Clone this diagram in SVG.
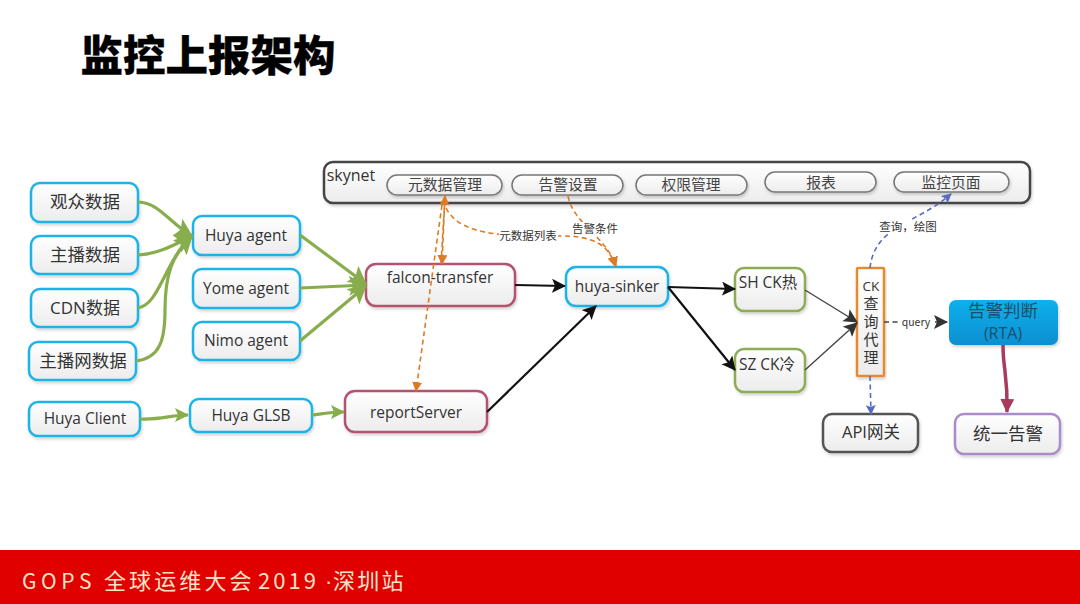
<svg xmlns="http://www.w3.org/2000/svg" width="1080" height="604" viewBox="0 0 1080 604">
<style>
text{font-family:"Liberation Sans","Noto Sans CJK SC",sans-serif;fill:#333;text-anchor:middle}
.n{font-family:"Open Sans","Noto Sans CJK SC",sans-serif;font-size:15.5px}
.c{font-family:"Open Sans","Noto Sans CJK SC",sans-serif;font-size:17.5px}
.s{font-family:"Noto Sans CJK SC",sans-serif;font-size:14.8px;fill:#444}
.l{font-family:"Noto Sans CJK SC",sans-serif;font-size:11.5px;fill:#333}
.f{font-family:"Noto Sans CJK SC",sans-serif;fill:#ffe3c8;text-anchor:start}
rect{fill:url(#g);filter:url(#sh)}
.b{stroke:#1fb4e8;stroke-width:2.5}
.r{stroke:#b4536f;stroke-width:2.5}
.gr{stroke:#8cac55;stroke-width:2.5}
.pill{stroke:#777;stroke-width:1.5}
.gc{fill:none;stroke:#88ad4c;stroke-width:3.2}
.kc{fill:none;stroke:#111;stroke-width:2.2}
.dc{fill:none;stroke:#444;stroke-width:1.4}
.oc{fill:none;stroke:#de7a25;stroke-width:1.6;stroke-dasharray:5 3.5}
.uc{fill:none;stroke:#5a6cc0;stroke-width:1.6;stroke-dasharray:5 3.5}
</style>
<defs>
<linearGradient id="g" x1="0" y1="0" x2="0" y2="1"><stop offset="0" stop-color="#fff"/><stop offset="1" stop-color="#ececec"/></linearGradient>
<linearGradient id="bl" x1="0" y1="0" x2="0" y2="1"><stop offset="0" stop-color="#0bb0ee"/><stop offset="1" stop-color="#0a8fd0"/></linearGradient>
<filter id="sh" x="-10%" y="-10%" width="120%" height="130%"><feDropShadow dx="1" dy="2" stdDeviation="1.5" flood-color="#000" flood-opacity=".18"/></filter>
<marker id="mg" markerUnits="userSpaceOnUse" markerWidth="22" markerHeight="22" refX="17" refY="10" orient="auto"><path d="M0 0L18 10L0 20L4 10Z" fill="#88ad4c"/></marker>
<marker id="mgs" markerUnits="userSpaceOnUse" markerWidth="16" markerHeight="16" refX="13" refY="7" orient="auto"><path d="M0 0L14 7L0 14L3 7Z" fill="#88ad4c"/></marker>
<marker id="mk" markerUnits="userSpaceOnUse" markerWidth="16" markerHeight="16" refX="13" refY="7" orient="auto"><path d="M0 0L14 7L0 14L3 7Z" fill="#111"/></marker>
<marker id="md" markerUnits="userSpaceOnUse" markerWidth="16" markerHeight="16" refX="13" refY="7" orient="auto"><path d="M0 0L14 7L0 14L3 7Z" fill="#333"/></marker>
<marker id="mo" markerUnits="userSpaceOnUse" markerWidth="12" markerHeight="12" refX="9" refY="5" orient="auto"><path d="M0 0L10 5L0 10Z" fill="#de7a25"/></marker>
<marker id="mu" markerUnits="userSpaceOnUse" markerWidth="12" markerHeight="12" refX="9" refY="5" orient="auto"><path d="M0 0L10 5L0 10L2 5Z" fill="#5a6cc0"/></marker>
<marker id="mr" markerUnits="userSpaceOnUse" markerWidth="16" markerHeight="16" refX="13" refY="7" orient="auto"><path d="M0 0L14 7L0 14Z" fill="#a83a5c"/></marker>
</defs>
<rect width="1080" height="604" style="fill:#fff;filter:none"/>
<text x="208" y="71" style="font-family:'Noto Sans CJK SC',sans-serif;font-size:42.5px;font-weight:900;fill:#000;stroke:#000;stroke-width:.3">监控上报架构</text>
<g id="skynet"><rect class="pill" style="stroke:#444;stroke-width:2.5" x="324" y="162" width="706" height="41" rx="9"/><text x="351" y="181" style="font-family:'Open Sans',sans-serif;font-size:16px">skynet</text></g>
<g id="meta"><rect class="pill" x="387" y="175" width="115" height="20" rx="10"/><text class="s" x="445" y="190">元数据管理</text></g>
<g id="alarmset"><rect class="pill" x="512" y="175" width="111" height="20" rx="10"/><text class="s" x="568" y="190">告警设置</text></g>
<g id="perm"><rect class="pill" x="636" y="175" width="111" height="20" rx="10"/><text class="s" x="691" y="190">权限管理</text></g>
<g id="report"><rect class="pill" x="765" y="172" width="111" height="20" rx="10"/><text class="s" x="821" y="188">报表</text></g>
<g id="page"><rect class="pill" x="894" y="172" width="115" height="20" rx="10"/><text class="s" x="951" y="188">监控页面</text></g>
<g id="viewer"><rect class="b" x="31" y="183" width="107" height="39" rx="9"/><text class="c" x="85" y="208">观众数据</text></g>
<g id="host"><rect class="b" x="31" y="236" width="107" height="38" rx="9"/><text class="c" x="85" y="261">主播数据</text></g>
<g id="cdn"><rect class="b" x="31" y="289" width="107" height="38" rx="9"/><text class="c" x="85" y="314" style="font-size:17px">CDN数据</text></g>
<g id="hostnet"><rect class="b" x="29" y="342" width="107" height="38" rx="9"/><text class="c" x="83" y="367">主播网数据</text></g>
<g id="client"><rect class="b" x="29" y="402" width="111" height="34" rx="9"/><text class="n" x="85" y="424">Huya Client</text></g>
<g id="huya-agent"><rect class="b" x="193" y="216" width="107" height="39" rx="9"/><text class="n" x="246" y="241">Huya agent</text></g>
<g id="yome-agent"><rect class="b" x="193" y="269" width="107" height="39" rx="9"/><text class="n" x="246" y="294">Yome agent</text></g>
<g id="nimo-agent"><rect class="b" x="193" y="322" width="107" height="38" rx="9"/><text class="n" x="246" y="346">Nimo agent</text></g>
<g id="glsb"><rect class="b" x="190" y="399" width="122" height="33" rx="9"/><text class="n" x="251" y="421">Huya GLSB</text></g>
<g id="falcon"><rect class="r" x="366" y="264" width="149" height="42" rx="10"/><text class="n" x="440" y="283">falcon-transfer</text></g>
<g id="report-server"><rect class="r" x="345" y="391" width="142" height="41" rx="10"/><text class="n" x="416" y="418">reportServer</text></g>
<g id="sinker"><rect class="b" x="566" y="267" width="102" height="39" rx="10"/><text class="n" x="617" y="292">huya-sinker</text></g>
<g id="sh"><rect class="gr" x="735" y="268" width="70" height="43" rx="9"/><text class="n" x="768" y="288">SH CK热</text></g>
<g id="sz"><rect class="gr" x="735" y="349" width="70" height="43" rx="9"/><text class="n" x="767" y="370">SZ CK冷</text></g>
<g id="proxy"><rect style="stroke:#e58a2e;stroke-width:2.5" x="857" y="268" width="27" height="108" rx="1"/>
<text class="n" x="871" y="291" style="font-size:13.5px">CK</text><text class="n" x="871" y="309" style="font-size:15px">查</text><text class="n" x="871" y="327" style="font-size:15px">询</text><text class="n" x="871" y="345" style="font-size:15px">代</text><text class="n" x="871" y="363" style="font-size:15px">理</text></g>
<g id="rta"><rect style="fill:url(#bl)" x="949" y="300" width="109" height="45" rx="7"/><text class="c" x="1003" y="317" style="fill:#17506e">告警判断</text><text class="n" x="1003" y="339" style="font-size:16px;fill:#17506e">(RTA)</text></g>
<g id="api"><rect style="stroke:#555;stroke-width:2.5" x="823" y="414" width="95" height="38" rx="9"/><text class="n" x="871" y="438" style="font-size:16.5px">API网关</text></g>
<g id="unified"><rect style="stroke:#a98cc8;stroke-width:2.5" x="955" y="414" width="105" height="40" rx="9"/><text class="c" x="1008" y="440">统一告警</text></g>
<g id="connectors">
<path class="gc" marker-end="url(#mg)" d="M138 202C160 203 168 222 192 236"/>
<path class="gc" marker-end="url(#mg)" d="M138 255C158 254 172 246 192 236"/>
<path class="gc" marker-end="url(#mg)" d="M138 308C160 304 164 262 192 236"/>
<path class="gc" marker-end="url(#mg)" d="M136 361C160 358 165 340 165 310C165 275 172 255 192 236"/>
<path class="gc" marker-end="url(#mgs)" d="M140 419C160 420 172 415 188 415"/>
<path class="gc" marker-end="url(#mg)" d="M300 235L366 284"/>
<path class="gc" marker-end="url(#mg)" d="M300 288L366 285"/>
<path class="gc" marker-end="url(#mg)" d="M300 341L366 286"/>
<path class="gc" marker-end="url(#mgs)" d="M312 415C322 414 330 412 344 412"/>
<path class="kc" marker-end="url(#mk)" d="M515 285L565 286"/>
<path class="kc" marker-end="url(#mk)" d="M487 412L596 306"/>
<path class="kc" marker-end="url(#mk)" d="M668 287L735 289"/>
<path class="kc" marker-end="url(#mk)" d="M668 287L735 370"/>
<path class="dc" marker-end="url(#md)" d="M805 290L857 322"/>
<path class="dc" marker-end="url(#md)" d="M805 370L857 323"/>
<path class="dc" stroke-dasharray="5 3.5" marker-end="url(#md)" d="M884 322L947 322"/>
<path class="oc" marker-end="url(#mo)" d="M445 195L442 264"/>
<path class="oc" marker-end="url(#mo)" d="M441 264L445 196"/>
<path class="oc" marker-end="url(#mo)" d="M442 205L416 391"/>
<path class="oc" marker-end="url(#mo)" d="M446 208C462 240 520 235 560 236C585 236 608 240 615 266"/>
<path class="oc" marker-end="url(#mo)" d="M568 196C574 225 605 235 616 266"/>
<path class="uc" marker-end="url(#mu)" d="M870 268C875 225 915 225 951 194"/>
<path class="uc" marker-end="url(#mu)" d="M870 376L871 414"/>
<path d="M1003 345C1003 370 1008 375 1007 412" style="fill:none;stroke:#a83a5c;stroke-width:3.5" marker-end="url(#mr)"/>
</g>
<g id="labels">
<rect style="fill:#fff;filter:none" x="499" y="230" width="59" height="12"/><text class="l" x="528" y="240">元数据列表</text>
<rect style="fill:#fff;filter:none" x="571" y="222" width="48" height="13"/><text class="l" x="595" y="233">告警条件</text>
<rect style="fill:#fff;filter:none" x="878" y="220" width="60" height="13"/><text class="l" x="908" y="231">查询，绘图</text>
<rect style="fill:#fff;filter:none" x="899" y="317" width="33" height="11"/><text class="l" x="916" y="326" style="font-size:10.5px">query</text>
</g>
<rect style="fill:#e00000;filter:none" y="550" width="1080" height="54"/>
<text class="f" x="22" y="589" style="font-size:21px;letter-spacing:4.6px">GOPS</text>
<text class="f" x="104" y="589" style="font-size:22px;letter-spacing:3.1px">全球运维大会</text>
<text class="f" x="258" y="589" style="font-size:22px;letter-spacing:3px">2019</text>
<text class="f" x="325" y="589" style="font-family:'Liberation Sans',sans-serif;font-size:22px">·</text>
<text class="f" x="333" y="589" style="font-size:22px;letter-spacing:2.3px">深圳站</text>
</svg>
